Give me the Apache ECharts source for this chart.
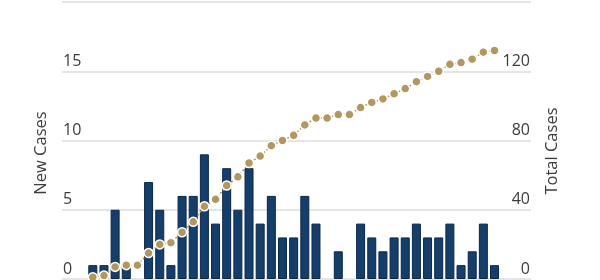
<!DOCTYPE html>
<html>
<head>
<meta charset="utf-8">
<script src="https://cdn.jsdelivr.net/npm/echarts@6/dist/echarts.min.js"></script>
<style>
html,body{margin:0;padding:0;background:#fff;}
#chart{width:600px;height:280px;}
</style>
</head>
<body>
<div id="chart"></div>
<script>
// Daily new cases (37 days)
var newCases = [1,1,5,1,0,7,5,1,6,6,9,4,8,5,8,4,6,3,3,6,4,0,2,0,4,3,2,3,3,4,3,3,4,1,2,4,1];
// Cumulative total cases
var totalCases = [1,2,7,8,8,15,20,21,27,33,42,46,54,59,67,71,77,80,83,89,93,93,95,95,99,102,104,107,110,114,117,120,124,125,127,131,132];
var leftTicks = [0,5,10,15,20];
var rightTicks = [0,40,80,120,160];

var barData = newCases.map(function(v,i){return [i, v === 0 ? '-' : v];});
var lineData = totalCases.map(function(v,i){return [i,v];});

var FONT = '"Open Sans"';
var TXT = '#3c3c3c';
var chart = echarts.init(document.getElementById('chart'), null, {renderer:'canvas'});
chart.setOption({
  animation:false,
  backgroundColor:'#fff',
  grid:{left:62, right:69, top:2, bottom:1, containLabel:false, outerBoundsMode:'none'},
  xAxis:{type:'value', min:-2.76, max:39.27, show:false, splitLine:{show:false}},
  yAxis:[
    {type:'value', min:leftTicks[0], max:leftTicks[leftTicks.length-1], interval:5,
     axisLine:{show:false}, axisTick:{show:false},
     splitLine:{show:true, lineStyle:{color:'#dcdcdc', width:1.5}},
     axisLabel:{inside:true, margin:1, verticalAlign:'bottom', padding:[0,0,2,0], showMaxLabel:false,
       fontFamily:FONT, fontSize:16, color:TXT}},
    {type:'value', min:rightTicks[0], max:rightTicks[rightTicks.length-1], interval:40,
     position:'right',
     axisLine:{show:false}, axisTick:{show:false}, splitLine:{show:false},
     axisLabel:{inside:true, margin:1, verticalAlign:'bottom', padding:[0,0,2,0], showMaxLabel:false,
       fontFamily:FONT, fontSize:16, color:TXT}}
  ],
  graphic:[
    {type:'text', x:41, y:153, rotation:Math.PI/2,
     style:{text:'New Cases', fontFamily:FONT, fontSize:16.5, fill:TXT, align:'center', verticalAlign:'middle'}},
    {type:'text', x:552, y:151, rotation:Math.PI/2,
     style:{text:'Total Cases', fontFamily:FONT, fontSize:16.5, fill:TXT, align:'center', verticalAlign:'middle'}}
  ],
  series:[
    {type:'bar', yAxisIndex:0, data:barData, barWidth:9,
     itemStyle:{color:'#143f6c', borderColor:'#0b2748', borderWidth:1}, z:2},
    {type:'line', yAxisIndex:1, data:lineData, symbol:'circle', symbolSize:9,
     itemStyle:{color:'#b4975f', borderColor:'#fff', borderWidth:1.5},
     lineStyle:{color:'#b4975f', width:1.5, type:[2,2]}, z:3}
  ]
});
</script>
</body>
</html>
